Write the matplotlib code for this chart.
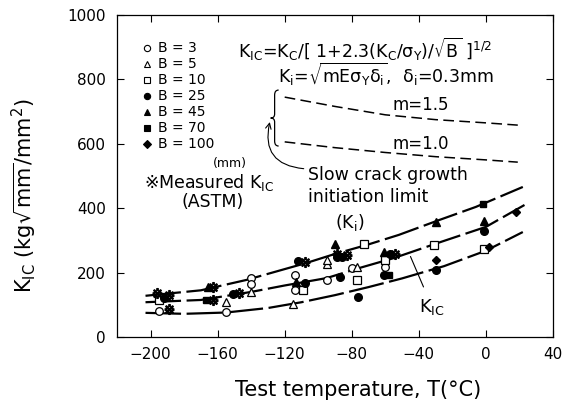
import matplotlib
matplotlib.use("Agg")
import matplotlib.pyplot as plt
import matplotlib.transforms as mtransforms
from matplotlib.path import Path
from matplotlib.patches import PathPatch

plt.rcParams["font.family"] = ["DejaVu Sans"]
plt.rcParams["mathtext.fontset"] = "dejavusans"
plt.rcParams["mathtext.default"] = "regular"

# data (T in degC, K_IC in kg*sqrt(mm)/mm^2)
b3_t = [-195, -155, -140, -140, -114, -114, -95, -80, -60]
b3_k = [80, 78, 183, 165, 193, 146, 177, 214, 217]
b5_t = [-155, -140, -115, -95, -95, -77]
b5_k = [109, 140, 102, 227, 238, 217]
b10_t = [-195, -109, -73, -77, -60, -31, -1]
b10_k = [115, 146, 289, 177, 239, 285, 273]
b25_t = [-192, -151, -112, -108, -89, -86, -87, -76, -57, -61, -30, -1]
b25_k = [121, 134, 236, 168, 248, 250, 186, 124, 258, 193, 207, 329]
b45_t = [-166, -113, -90, -61, -30, -1]
b45_k = [155, 170, 288, 263, 358, 361]
b70_t = [-167, -58, -2]
b70_k = [115, 193, 414]
b100_t = [-30, 2, 18]
b100_k = [238, 278, 388]
astm_t = [-189, -196, -189, -163, -163, -147, -108, -89, -83, -54]
astm_k = [88, 137, 130, 155, 115, 136, 233, 258, 255, 258]

# K_IC curves (hand drawn in the original)
up_t = [-203, -170, -143, -107, -90, -71, -52, -28, -6, 22]
up_k = [128, 145, 177, 230, 258, 286, 317, 363, 404, 466]
mid_t = [-203, -170, -140, -120, -95, -75, -55, -27, 0, 23]
mid_k = [108, 115, 140, 160, 183, 215, 245, 295, 342, 410]
low_t = [-203, -180, -155, -130, -110, -90, -70, -50, -25, 0, 22]
low_k = [75, 72, 76, 90, 108, 130, 155, 182, 220, 268, 326]

# slow crack growth initiation limit K_i
ki_t = [-120, -90, -60, -30, 0, 19]
ki15_k = [745, 716, 690, 675, 665, 658]
ki10_k = [606, 588, 573, 560, 550, 543]

xticks = [-200, -160, -120, -80, -40, 0, 40]
yticks = [0, 200, 400, 600, 800, 1000]

fig = plt.figure(figsize=(5.7, 4.12), dpi=100)
ax = fig.add_axes([117 / 570, 75 / 412, 436 / 570, 322 / 412])

dash = (0, (16, 2.5))
for t, k in [(up_t, up_k), (mid_t, mid_k), (low_t, low_k)]:
    ax.plot(t, k, color="black", lw=1.6, linestyle=dash)
for k in [ki15_k, ki10_k]:
    ax.plot(ki_t, k, color="black", lw=1.1, linestyle=(0, (7, 3.5)))

ms = 5.5
ax.plot(b3_t, b3_k, "o", mfc="white", mec="black", ms=ms, mew=0.9, ls="none")
ax.plot(b5_t, b5_k, "^", mfc="white", mec="black", ms=ms, mew=0.9, ls="none")
ax.plot(b10_t, b10_k, "s", mfc="white", mec="black", ms=ms, mew=0.9, ls="none")
ax.plot(b25_t, b25_k, "o", color="black", ms=ms, ls="none")
ax.plot(b45_t, b45_k, "^", color="black", ms=ms, ls="none")
ax.plot(b70_t, b70_k, "s", color="black", ms=ms - 0.5, ls="none")
ax.plot(b100_t, b100_k, "D", color="black", ms=ms - 1, ls="none")
ax.plot(astm_t, astm_k, marker="$\u203b$", color="black", ms=7, ls="none")

ax.set_xlim(-220, 40)
ax.set_ylim(0, 1000)
ax.set_xticks(xticks)
ax.set_yticks(yticks)
ax.tick_params(direction="in", length=5, width=0.8, top=True, right=True,
               labelsize=11)
ax.tick_params(axis="y", pad=8)
ax.tick_params(axis="x", pad=7)
for s in ax.spines.values():
    s.set_linewidth(0.9)

ax.set_xlabel("Test temperature, T(\u00b0C)", fontsize=15)
ax.xaxis.set_label_coords(0.553, -0.135)
ax.set_ylabel(r"K$_{\rm IC}$ (kg$\sqrt{\rm mm}$/mm$^2$)", fontsize=15)
ax.yaxis.set_label_coords(-0.18, 0.44)

# legend written as text
leg_labels = ["B = 3", "B = 5", "B = 10", "B = 25", "B = 45", "B = 70",
              "B = 100"]
leg_styles = [("o", "white"), ("^", "white"), ("s", "white"), ("o", "black"),
              ("^", "black"), ("s", "black"), ("D", "black")]
for i, (lab, (mk, fc)) in enumerate(zip(leg_labels, leg_styles)):
    y = 0.8975 - i * 0.0497
    ax.plot([0.069], [y], marker=mk, mfc=fc, mec="black", ms=4.5, mew=0.8,
            transform=ax.transAxes, clip_on=False)
    ax.text(0.094, y, lab, transform=ax.transAxes, fontsize=10,
            va="center", ha="left")
ax.text(0.259, 0.54, "(mm)", transform=ax.transAxes, fontsize=9, ha="center",
        va="center")
ax.text(0.063, 0.481, "\u203bMeasured K$_{\\rm IC}$", transform=ax.transAxes,
        fontsize=12.5, ha="left", va="center")
ax.text(0.22, 0.419, "(ASTM)", transform=ax.transAxes, fontsize=12.5,
        ha="center", va="center")

# formulas
ax.text(0.277, 0.893,
        r"K$_{\rm IC}$=K$_{\rm C}$/[ 1+2.3(K$_{\rm C}$/$\sigma_{\rm Y}$)/$\sqrt{\rm B}$ ]$^{1/2}$",
        transform=ax.transAxes, fontsize=12.5, ha="left", va="center")
ax.text(0.37, 0.815,
        r"K$_{\rm i}$=$\sqrt{\rm mE\sigma_Y\delta_i}$,  $\delta_{\rm i}$=0.3mm",
        transform=ax.transAxes, fontsize=12.5, ha="left", va="center")
ax.text(-39, 720, "m=1.5", fontsize=12, ha="center", va="center")
ax.text(-39, 600, "m=1.0", fontsize=12, ha="center", va="center")

ax.text(-106, 470, "Slow crack growth\ninitiation limit", fontsize=12.5,
        ha="left", va="center", linespacing=1.3)
ax.text(-81, 357, "(K$_{\\rm i}$)", fontsize=12.5, ha="center", va="center")

# curly brace grouping the two K_i lines
s = 1 / 100.0
verts = [(4 * s, 28 * s), (0, 28 * s), (0, 23 * s), (0, 4 * s), (0, 0),
         (-4 * s, 0), (0, 0), (0, -4 * s), (0, -23 * s), (0, -28 * s),
         (4 * s, -28 * s)]
codes = [Path.MOVETO, Path.CURVE3, Path.CURVE3, Path.LINETO, Path.CURVE3,
         Path.CURVE3, Path.CURVE3, Path.CURVE3, Path.LINETO, Path.CURVE3,
         Path.CURVE3]
brace_tr = fig.dpi_scale_trans + mtransforms.ScaledTranslation(-126, 680,
                                                                ax.transData)
ax.add_patch(PathPatch(Path(verts, codes), fc="none", ec="black", lw=0.9,
                       transform=brace_tr, clip_on=False))

ax.annotate("", xy=(-128.5, 676), xytext=(-107, 522),
            arrowprops=dict(arrowstyle="->", lw=0.8, color="black",
                            connectionstyle="arc3,rad=-0.6"))

# K_IC label with leader line
ax.annotate("K$_{\\rm IC}$", xy=(-45, 250), xytext=(-32, 92), fontsize=13,
            ha="center", va="center",
            arrowprops=dict(arrowstyle="-", lw=0.8, color="black",
                            shrinkA=6, shrinkB=0))

fig.savefig("out.png", dpi=100)
